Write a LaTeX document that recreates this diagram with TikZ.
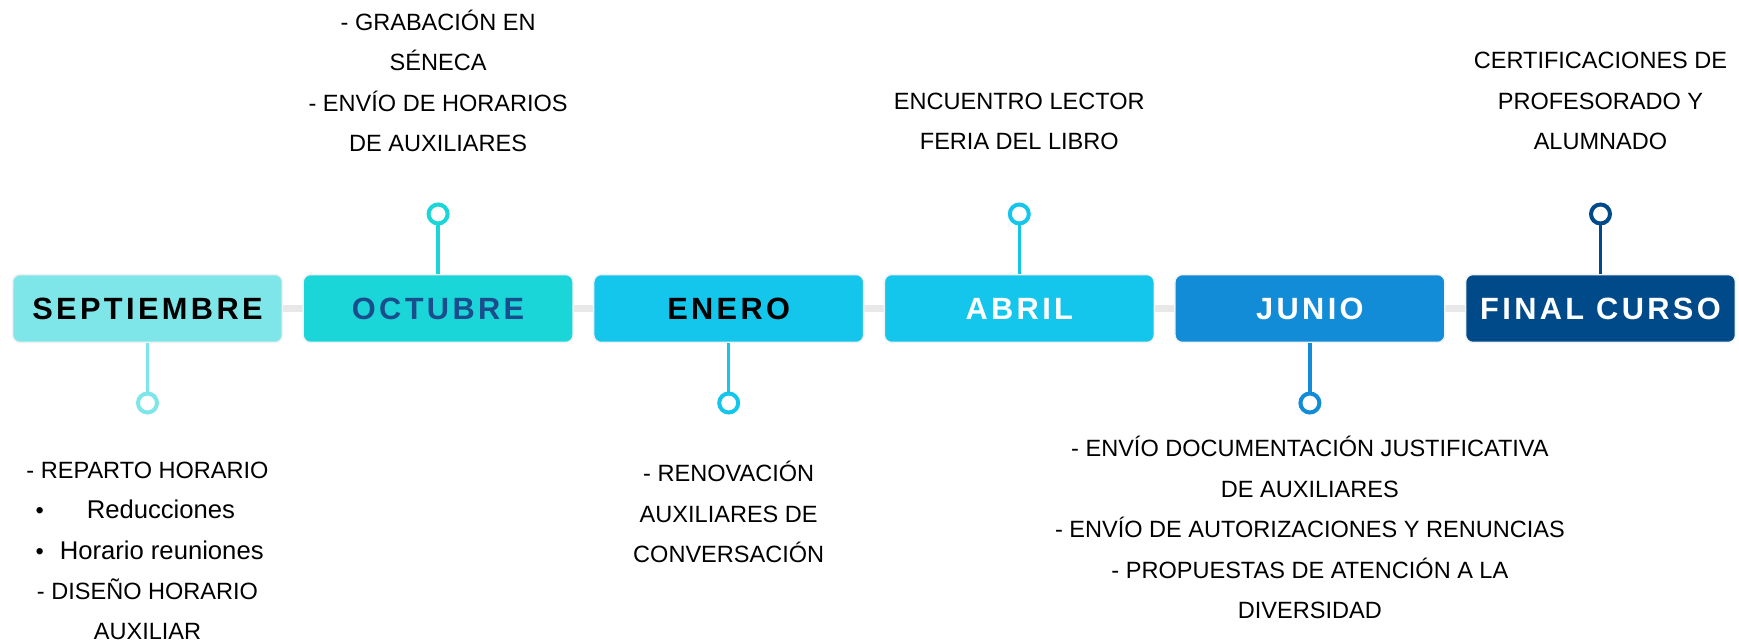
\documentclass[tikz,border=0pt]{standalone}
\usepackage{fontspec}
\setmainfont{Liberation Sans}
\newfontfamily\headfont{Liberation Sans}[LetterSpace=11]
\usetikzlibrary{positioning,backgrounds}

\definecolor{sepcol}{HTML}{7EE6E8}
\definecolor{octcol}{HTML}{1AD6D8}
\definecolor{enecol}{HTML}{14C6EC}
\definecolor{juncol}{HTML}{128CD6}
\definecolor{fincol}{HTML}{004A8A}
\definecolor{octtxt}{HTML}{1A4D8C}
\definecolor{trackgray}{HTML}{E8E8E8}

\begin{document}
\begin{tikzpicture}[x=0.02cm,y=-0.02cm,
  month/.style={rounded corners=0.15cm, minimum width=5.4cm, minimum height=1.36cm,
    inner sep=0pt, draw=black!5, line width=0.03cm,
    font=\headfont\bfseries\fontsize{17.5}{20}\selectfont},
  dot/.style={circle, line width=0.08cm, fill=white, minimum size=0.38cm, inner sep=0pt},
  stem/.style={line width=0.07cm},
  info/.style={align=center, inner sep=0pt, font=\fontsize{13.4}{23}\selectfont},
  bigger/.style={font=\fontsize{14.6}{23}\selectfont}]
\useasboundingbox (0,0) rectangle (1739,642);

% months
\node[month, fill=sepcol]                  (m1) at (147.5,308.5)  {SEPTIEMBRE};
\node[month, fill=octcol, text=octtxt]     (m2) at (438.1,308.5)  {OCTUBRE};
\node[month, fill=enecol]                  (m3) at (728.7,308.5)  {ENERO};
\node[month, fill=enecol, text=white]      (m4) at (1019.3,308.5) {ABRIL};
\node[month, fill=juncol, text=white]      (m5) at (1309.9,308.5) {JUNIO};
\node[month, fill=fincol, text=white]      (m6) at (1600.5,308.5) {FINAL CURSO};

\begin{scope}[on background layer]
  \draw[trackgray, line width=0.14cm] (m1) -- (m6);
\end{scope}

% dots
\node[dot, draw=sepcol] (c1) at (147.5,403)  {};
\node[dot, draw=octcol] (c2) at (438.1,214)  {};
\node[dot, draw=enecol] (c3) at (728.7,403)  {};
\node[dot, draw=enecol] (c4) at (1019.3,214) {};
\node[dot, draw=juncol] (c5) at (1309.9,403) {};
\node[dot, draw=fincol] (c6) at (1600.5,214) {};

\draw[stem, sepcol] (m1.south) -- (c1.north);
\draw[stem, octcol] (c2.south) -- (m2.north);
\draw[stem, enecol] (m3.south) -- (c3.north);
\draw[stem, enecol] (c4.south) -- (m4.north);
\draw[stem, juncol] (m5.south) -- (c5.north);
\draw[stem, fincol] (c6.south) -- (m6.north);

% texts
\node[info] (t1) at (147.5,551) {- REPARTO HORARIO\\
  \makebox[4.48cm][l]{\textbullet\kern0.86cm{\fontsize{14.6}{23}\selectfont Reducciones}}\\
  \makebox[4.48cm][l]{\textbullet\kern0.32cm{\fontsize{14.6}{23}\selectfont Horario reuniones}}\\
  - DISEÑO HORARIO\\AUXILIAR};
\node[info] (t2) at (438.1,81) {- GRABACIÓN EN\\SÉNECA\\- ENVÍO DE HORARIOS\\DE AUXILIARES};
\node[info] (t3) at (728.7,512) {- RENOVACIÓN\\AUXILIARES DE\\CONVERSACIÓN};
\node[info] (t4) at (1019.3,121.5) {ENCUENTRO LECTOR\\FERIA DEL LIBRO};
\node[info] (t5) at (1309.9,527.5) {- ENVÍO DOCUMENTACIÓN JUSTIFICATIVA\\DE AUXILIARES\\
  - ENVÍO DE AUTORIZACIONES Y RENUNCIAS\\- PROPUESTAS DE ATENCIÓN A LA\\DIVERSIDAD};
\node[info] (t6) at (1600.5,101) {CERTIFICACIONES DE\\PROFESORADO Y\\ALUMNADO};
\end{tikzpicture}
\end{document}
